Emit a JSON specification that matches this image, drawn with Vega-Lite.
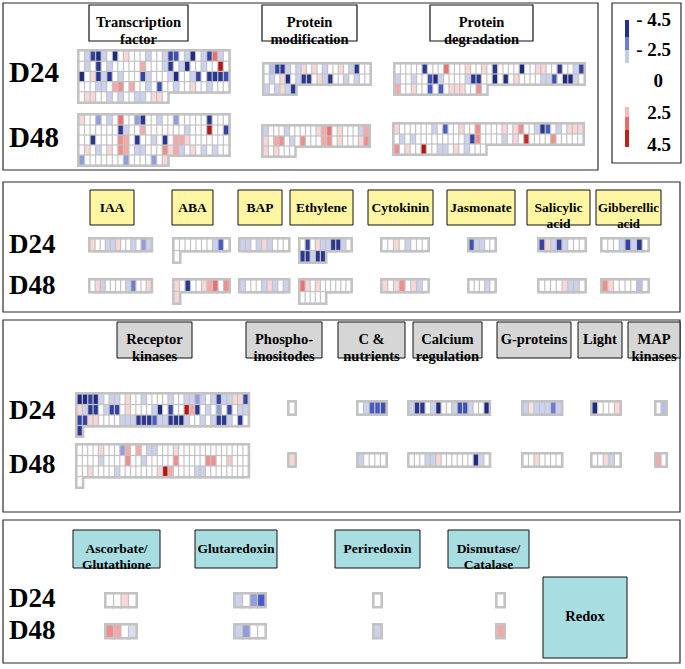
{
"$schema":"https://vega.github.io/schema/vega-lite/v6.json",
"width":685,"height":669,"padding":0,"autosize":{"type":"none"},"background":"white",
"config":{"view":{"stroke":null},"text":{"font":"Liberation Serif","fontWeight":"bold","color":"black"}},
"datasets":{
"frames":[
{"k":"p","x":3,"x2":598,"y":3,"y2":170},
{"k":"p","x":612,"x2":681,"y":3,"y2":163},
{"k":"p","x":3,"x2":680,"y":182,"y2":312},
{"k":"p","x":3,"x2":680,"y":320,"y2":512},
{"k":"p","x":3,"x2":680,"y":520,"y2":663},
{"k":"w","x":89,"x2":188,"y":5,"y2":41},
{"k":"w","x":262,"x2":357,"y":5,"y2":41},
{"k":"w","x":430,"x2":533,"y":5,"y2":41},
{"k":"y","x":90,"x2":134,"y":190,"y2":225},
{"k":"y","x":172,"x2":213,"y":190,"y2":225},
{"k":"y","x":238,"x2":282,"y":190,"y2":225},
{"k":"y","x":290,"x2":353,"y":190,"y2":225},
{"k":"y","x":368,"x2":433,"y":190,"y2":225},
{"k":"y","x":447,"x2":515,"y":190,"y2":225},
{"k":"y","x":527,"x2":590,"y":190,"y2":225},
{"k":"y","x":596,"x2":661,"y":190,"y2":225},
{"k":"g","x":117,"x2":192,"y":322,"y2":358},
{"k":"g","x":246,"x2":322,"y":322,"y2":358},
{"k":"g","x":338,"x2":405,"y":322,"y2":358},
{"k":"g","x":413,"x2":482,"y":322,"y2":358},
{"k":"g","x":497,"x2":571,"y":322,"y2":358},
{"k":"g","x":578,"x2":622,"y":322,"y2":358},
{"k":"g","x":628,"x2":680,"y":322,"y2":358},
{"k":"c","x":73,"x2":160,"y":530,"y2":568},
{"k":"c","x":195,"x2":277,"y":530,"y2":568},
{"k":"c","x":335,"x2":420,"y":530,"y2":568},
{"k":"c","x":448,"x2":529,"y":530,"y2":568},
{"k":"c","x":543,"x2":627,"y":577,"y2":658}
],
"bar":[
{"v":-4.2,"x":625,"x2":629,"y":20,"y2":37},
{"v":-2,"x":625,"x2":629,"y":37,"y2":50},
{"v":-0.8,"x":625,"x2":629,"y":50,"y2":63},
{"v":0,"x":625,"x2":629,"y":63,"y2":107},
{"v":1.2,"x":625,"x2":629,"y":107,"y2":117},
{"v":2.6,"x":625,"x2":629,"y":117,"y2":130},
{"v":4.2,"x":625,"x2":629,"y":130,"y2":147}
],
"texts":[
{"k":"h1","t":"Transcription\nfactor","x":138.5,"y":23},
{"k":"h1","t":"Protein\nmodification","x":309.5,"y":23},
{"k":"h1","t":"Protein\ndegradation","x":481.5,"y":23},
{"k":"h2","t":"IAA","x":112,"y":207.5},
{"k":"h2","t":"ABA","x":192.5,"y":207.5},
{"k":"h2","t":"BAP","x":260,"y":207.5},
{"k":"h2","t":"Ethylene","x":321.5,"y":207.5},
{"k":"h2","t":"Cytokinin","x":400.5,"y":207.5},
{"k":"h2","t":"Jasmonate","x":481,"y":207.5},
{"k":"h2","t":"Salicylic\nacid","x":558.5,"y":207.5},
{"k":"h3","t":"Gibberellic\nacid","x":628.5,"y":207.5},
{"k":"h1","t":"Receptor\nkinases","x":154.5,"y":340},
{"k":"h1","t":"Phospho-\ninositodes","x":284,"y":340},
{"k":"h1","t":"C &\nnutrients","x":371.5,"y":340},
{"k":"h1","t":"Calcium\nregulation","x":447.5,"y":340},
{"k":"h1","t":"G-proteins","x":534,"y":340},
{"k":"h1","t":"Light","x":600,"y":340},
{"k":"h1","t":"MAP\nkinases","x":654,"y":340},
{"k":"h2","t":"Ascorbate/\nGlutathione","x":116.5,"y":549},
{"k":"h2","t":"Glutaredoxin","x":236,"y":549},
{"k":"h2","t":"Periredoxin","x":377.5,"y":549},
{"k":"h2","t":"Dismutase/\nCatalase","x":488.5,"y":549},
{"k":"h1","t":"Redox","x":585,"y":617},
{"k":"D","t":"D24","x":9,"y":82},
{"k":"D","t":"D48","x":9,"y":147},
{"k":"d","t":"D24","x":9,"y":253},
{"k":"d","t":"D48","x":9,"y":294},
{"k":"d","t":"D24","x":9,"y":419},
{"k":"d","t":"D48","x":9,"y":473},
{"k":"d","t":"D24","x":9,"y":607},
{"k":"d","t":"D48","x":9,"y":639},
{"k":"l","t":"- 4.5","x":671,"y":20},
{"k":"l","t":"- 2.5","x":671,"y":50},
{"k":"l","t":"0","x":663,"y":81},
{"k":"l","t":"2.5","x":671,"y":113},
{"k":"l","t":"4.5","x":671,"y":145}
],
"layout":[
{"g":"t1","x0":79,"y0":51,"n":27,"w":5.55,"h":10.2},
{"g":"t2","x0":79,"y0":115,"n":27,"w":5.55,"h":10},
{"g":"m1","x0":264,"y0":64,"n":20,"w":5.3,"h":10},
{"g":"m2","x0":263,"y0":126,"n":20,"w":5.3,"h":10},
{"g":"p1","x0":395,"y0":64,"n":35,"w":5.4,"h":10},
{"g":"p2","x0":394,"y0":124,"n":35,"w":5.4,"h":10},
{"g":"ia1","x0":90,"y0":239,"n":12,"w":5.1,"h":11.5},
{"g":"ia2","x0":90,"y0":280,"n":12,"w":5.1,"h":11.5},
{"g":"ab1","x0":174,"y0":239,"n":10,"w":5.5,"h":11.5},
{"g":"ab2","x0":174,"y0":280,"n":10,"w":5.5,"h":11.5},
{"g":"ba1","x0":240,"y0":239,"n":9,"w":5.4,"h":11.5},
{"g":"ba2","x0":240,"y0":280,"n":9,"w":5.4,"h":11.5},
{"g":"et1","x0":300,"y0":239,"n":10,"w":5.1,"h":11.5},
{"g":"et2","x0":300,"y0":280,"n":10,"w":5.1,"h":11.5},
{"g":"cy1","x0":382,"y0":239,"n":8,"w":5.75,"h":11.5},
{"g":"cy2","x0":382,"y0":280,"n":8,"w":5.75,"h":11.5},
{"g":"ja1","x0":469,"y0":239,"n":5,"w":5.2,"h":11.5},
{"g":"ja2","x0":469,"y0":280,"n":5,"w":5.2,"h":11.5},
{"g":"sa1","x0":539,"y0":239,"n":8,"w":5.75,"h":11.5},
{"g":"sa2","x0":539,"y0":280,"n":8,"w":5.75,"h":11.5},
{"g":"gi1","x0":602,"y0":239,"n":8,"w":5.75,"h":11.5},
{"g":"gi2","x0":602,"y0":280,"n":8,"w":5.75,"h":11.5},
{"g":"rk1","x0":77,"y0":394,"n":32,"w":5.35,"h":10.5},
{"g":"rk2","x0":77,"y0":445,"n":32,"w":5.35,"h":10.5},
{"g":"ph1","x0":289,"y0":402,"n":1,"w":6,"h":12},
{"g":"ph2","x0":289,"y0":454,"n":1,"w":6,"h":12},
{"g":"cn1","x0":358,"y0":402,"n":5,"w":5.6,"h":12},
{"g":"cn2","x0":358,"y0":454,"n":5,"w":5.6,"h":12},
{"g":"ca1","x0":409,"y0":402,"n":15,"w":5.35,"h":12},
{"g":"ca2","x0":409,"y0":454,"n":15,"w":5.35,"h":12},
{"g":"gp1","x0":523,"y0":402,"n":7,"w":5.5,"h":12},
{"g":"gp2","x0":523,"y0":454,"n":7,"w":5.5,"h":12},
{"g":"li1","x0":592,"y0":402,"n":5,"w":5.6,"h":12},
{"g":"li2","x0":592,"y0":454,"n":5,"w":5.6,"h":12},
{"g":"mk1","x0":656,"y0":402,"n":2,"w":5,"h":12},
{"g":"mk2","x0":656,"y0":454,"n":2,"w":5,"h":12},
{"g":"as1","x0":106,"y0":594,"n":4,"w":7.5,"h":12.5},
{"g":"as2","x0":106,"y0":625,"n":4,"w":7.5,"h":12.5},
{"g":"gl1","x0":235,"y0":594,"n":4,"w":7.5,"h":12.5},
{"g":"gl2","x0":235,"y0":625,"n":4,"w":7.5,"h":12.5},
{"g":"pe1","x0":374,"y0":594,"n":1,"w":7,"h":12.5},
{"g":"pe2","x0":374,"y0":625,"n":1,"w":7,"h":12.5},
{"g":"di1","x0":497,"y0":594,"n":1,"w":7,"h":12.5},
{"g":"di2","x0":497,"y0":625,"n":1,"w":7,"h":12.5}
],
"cells":[
{"g":"t1","v":0},{"g":"t1","v":-0.7},{"g":"t1","v":-3.5},{"g":"t1","v":-4.5},{"g":"t1","v":-0.7},{"g":"t1","v":0},{"g":"t1","v":-4.5},{"g":"t1","v":0},{"g":"t1","v":0.7},{"g":"t1","v":0},{"g":"t1","v":0},{"g":"t1","v":0},{"g":"t1","v":-0.7},{"g":"t1","v":0},{"g":"t1","v":0},{"g":"t1","v":-0.7},{"g":"t1","v":-3.5},{"g":"t1","v":-3},{"g":"t1","v":0},{"g":"t1","v":-0.7},{"g":"t1","v":-4.5},{"g":"t1","v":0},{"g":"t1","v":-0.7},{"g":"t1","v":-3.5},{"g":"t1","v":2.5},{"g":"t1","v":-0.7},{"g":"t1","v":0},
{"g":"t1","v":0},{"g":"t1","v":-0.7},{"g":"t1","v":0},{"g":"t1","v":-4},{"g":"t1","v":0},{"g":"t1","v":-0.7},{"g":"t1","v":0},{"g":"t1","v":0},{"g":"t1","v":0},{"g":"t1","v":0},{"g":"t1","v":0},{"g":"t1","v":1.5},{"g":"t1","v":0},{"g":"t1","v":0},{"g":"t1","v":0},{"g":"t1","v":-0.7},{"g":"t1","v":-4},{"g":"t1","v":0},{"g":"t1","v":-0.7},{"g":"t1","v":-4.5},{"g":"t1","v":0},{"g":"t1","v":0},{"g":"t1","v":-0.7},{"g":"t1","v":0},{"g":"t1","v":0},{"g":"t1","v":4.5},{"g":"t1","v":0},
{"g":"t1","v":-4.5},{"g":"t1","v":0},{"g":"t1","v":0.7},{"g":"t1","v":-4},{"g":"t1","v":-0.7},{"g":"t1","v":-4},{"g":"t1","v":0},{"g":"t1","v":-0.7},{"g":"t1","v":0},{"g":"t1","v":0},{"g":"t1","v":0},{"g":"t1","v":-3.5},{"g":"t1","v":-0.7},{"g":"t1","v":0},{"g":"t1","v":0},{"g":"t1","v":0},{"g":"t1","v":-0.7},{"g":"t1","v":-4.5},{"g":"t1","v":0},{"g":"t1","v":0},{"g":"t1","v":-0.7},{"g":"t1","v":-3.5},{"g":"t1","v":0},{"g":"t1","v":-4},{"g":"t1","v":-4},{"g":"t1","v":-4},{"g":"t1","v":-3},
{"g":"t1","v":0},{"g":"t1","v":0},{"g":"t1","v":0},{"g":"t1","v":-0.7},{"g":"t1","v":-0.7},{"g":"t1","v":0},{"g":"t1","v":1.5},{"g":"t1","v":2},{"g":"t1","v":0},{"g":"t1","v":1.5},{"g":"t1","v":0},{"g":"t1","v":0},{"g":"t1","v":-0.7},{"g":"t1","v":0},{"g":"t1","v":-3},{"g":"t1","v":0},{"g":"t1","v":0},{"g":"t1","v":-0.7},{"g":"t1","v":0},{"g":"t1","v":0},{"g":"t1","v":0.7},{"g":"t1","v":0},{"g":"t1","v":0},{"g":"t1","v":-0.7},{"g":"t1","v":0},{"g":"t1","v":0},{"g":"t1","v":0},
{"g":"t1","v":0},{"g":"t1","v":0.7},{"g":"t1","v":0.7},{"g":"t1","v":0},{"g":"t1","v":0},{"g":"t1","v":-0.7},{"g":"t1","v":0},{"g":"t1","v":-0.7},{"g":"t1","v":0},{"g":"t1","v":0},{"g":"t1","v":-0.7},{"g":"t1","v":-0.7},{"g":"t1","v":0},{"g":"t1","v":0.7},{"g":"t1","v":0.7},{"g":"t1","v":0},
{"g":"t2","v":0.7},{"g":"t2","v":0},{"g":"t2","v":0},{"g":"t2","v":-1.5},{"g":"t2","v":0},{"g":"t2","v":-0.7},{"g":"t2","v":0},{"g":"t2","v":2.5},{"g":"t2","v":0},{"g":"t2","v":0},{"g":"t2","v":-1.5},{"g":"t2","v":-4},{"g":"t2","v":0},{"g":"t2","v":0},{"g":"t2","v":-0.7},{"g":"t2","v":0},{"g":"t2","v":0},{"g":"t2","v":-1.5},{"g":"t2","v":0},{"g":"t2","v":0},{"g":"t2","v":0},{"g":"t2","v":0},{"g":"t2","v":0},{"g":"t2","v":-4},{"g":"t2","v":0},{"g":"t2","v":0},{"g":"t2","v":0},
{"g":"t2","v":0},{"g":"t2","v":0},{"g":"t2","v":0},{"g":"t2","v":0},{"g":"t2","v":0},{"g":"t2","v":0},{"g":"t2","v":0},{"g":"t2","v":-4},{"g":"t2","v":-0.7},{"g":"t2","v":0},{"g":"t2","v":0},{"g":"t2","v":1.5},{"g":"t2","v":0},{"g":"t2","v":0},{"g":"t2","v":0},{"g":"t2","v":0},{"g":"t2","v":0},{"g":"t2","v":0},{"g":"t2","v":0},{"g":"t2","v":-0.7},{"g":"t2","v":0},{"g":"t2","v":0},{"g":"t2","v":0},{"g":"t2","v":4.5},{"g":"t2","v":0},{"g":"t2","v":0},{"g":"t2","v":-3.5},
{"g":"t2","v":0},{"g":"t2","v":0},{"g":"t2","v":-4},{"g":"t2","v":0},{"g":"t2","v":0},{"g":"t2","v":0},{"g":"t2","v":0},{"g":"t2","v":2},{"g":"t2","v":1.5},{"g":"t2","v":0},{"g":"t2","v":-4},{"g":"t2","v":0},{"g":"t2","v":0},{"g":"t2","v":-0.7},{"g":"t2","v":0},{"g":"t2","v":-4},{"g":"t2","v":0},{"g":"t2","v":1.5},{"g":"t2","v":1.5},{"g":"t2","v":0.7},{"g":"t2","v":0},{"g":"t2","v":0},{"g":"t2","v":0},{"g":"t2","v":0},{"g":"t2","v":0},{"g":"t2","v":0},{"g":"t2","v":0},
{"g":"t2","v":0},{"g":"t2","v":0.7},{"g":"t2","v":0},{"g":"t2","v":-0.7},{"g":"t2","v":0},{"g":"t2","v":0.7},{"g":"t2","v":0},{"g":"t2","v":2},{"g":"t2","v":1.5},{"g":"t2","v":0},{"g":"t2","v":-0.7},{"g":"t2","v":-0.7},{"g":"t2","v":0},{"g":"t2","v":0},{"g":"t2","v":0},{"g":"t2","v":2},{"g":"t2","v":0.7},{"g":"t2","v":1.5},{"g":"t2","v":-0.7},{"g":"t2","v":0},{"g":"t2","v":0.7},{"g":"t2","v":0},{"g":"t2","v":-0.7},{"g":"t2","v":0},{"g":"t2","v":-0.7},{"g":"t2","v":0},{"g":"t2","v":0},
{"g":"t2","v":-1.5},{"g":"t2","v":0},{"g":"t2","v":0},{"g":"t2","v":0},{"g":"t2","v":0},{"g":"t2","v":0},{"g":"t2","v":0},{"g":"t2","v":0},{"g":"t2","v":-1.5},{"g":"t2","v":0},{"g":"t2","v":0},{"g":"t2","v":0},{"g":"t2","v":0},{"g":"t2","v":-1.5},{"g":"t2","v":0},{"g":"t2","v":0.7},
{"g":"m1","v":0},{"g":"m1","v":-1},{"g":"m1","v":-3.5},{"g":"m1","v":-4},{"g":"m1","v":-0.7},{"g":"m1","v":0},{"g":"m1","v":-0.7},{"g":"m1","v":0.7},{"g":"m1","v":0},{"g":"m1","v":0.7},{"g":"m1","v":0},{"g":"m1","v":-0.7},{"g":"m1","v":0},{"g":"m1","v":0},{"g":"m1","v":0.7},{"g":"m1","v":0},{"g":"m1","v":-0.7},{"g":"m1","v":-4},{"g":"m1","v":0},{"g":"m1","v":0},
{"g":"m1","v":0},{"g":"m1","v":-0.7},{"g":"m1","v":0},{"g":"m1","v":0.7},{"g":"m1","v":-4.5},{"g":"m1","v":0},{"g":"m1","v":-0.7},{"g":"m1","v":-4},{"g":"m1","v":-4},{"g":"m1","v":0},{"g":"m1","v":0.7},{"g":"m1","v":-0.7},{"g":"m1","v":-4},{"g":"m1","v":0},{"g":"m1","v":0},{"g":"m1","v":-0.7},{"g":"m1","v":0},{"g":"m1","v":-0.7},{"g":"m1","v":0},{"g":"m1","v":0},
{"g":"m1","v":-0.7},{"g":"m1","v":0},{"g":"m1","v":-0.7},{"g":"m1","v":0.7},{"g":"m1","v":-0.7},{"g":"m1","v":-4},
{"g":"m2","v":-0.7},{"g":"m2","v":0},{"g":"m2","v":0},{"g":"m2","v":0},{"g":"m2","v":-0.7},{"g":"m2","v":0},{"g":"m2","v":0},{"g":"m2","v":0},{"g":"m2","v":0},{"g":"m2","v":0},{"g":"m2","v":0.7},{"g":"m2","v":1.5},{"g":"m2","v":2.5},{"g":"m2","v":0},{"g":"m2","v":0.7},{"g":"m2","v":0},{"g":"m2","v":0},{"g":"m2","v":0},{"g":"m2","v":-0.7},{"g":"m2","v":1.5},
{"g":"m2","v":0.7},{"g":"m2","v":0},{"g":"m2","v":1.5},{"g":"m2","v":2},{"g":"m2","v":0},{"g":"m2","v":-0.7},{"g":"m2","v":0},{"g":"m2","v":2},{"g":"m2","v":0},{"g":"m2","v":0},{"g":"m2","v":0},{"g":"m2","v":1.5},{"g":"m2","v":2},{"g":"m2","v":0},{"g":"m2","v":0.7},{"g":"m2","v":0},{"g":"m2","v":0},{"g":"m2","v":0},{"g":"m2","v":0.7},{"g":"m2","v":2},
{"g":"m2","v":0.7},{"g":"m2","v":0},{"g":"m2","v":0.7},{"g":"m2","v":0},{"g":"m2","v":0},{"g":"m2","v":0},
{"g":"p1","v":0},{"g":"p1","v":0},{"g":"p1","v":0},{"g":"p1","v":0},{"g":"p1","v":0},{"g":"p1","v":-4},{"g":"p1","v":0},{"g":"p1","v":0},{"g":"p1","v":0},{"g":"p1","v":2.5},{"g":"p1","v":0},{"g":"p1","v":0},{"g":"p1","v":0},{"g":"p1","v":0.7},{"g":"p1","v":0},{"g":"p1","v":0},{"g":"p1","v":0.7},{"g":"p1","v":0},{"g":"p1","v":-4},{"g":"p1","v":0},{"g":"p1","v":0},{"g":"p1","v":0},{"g":"p1","v":0},{"g":"p1","v":-4.5},{"g":"p1","v":0},{"g":"p1","v":0},{"g":"p1","v":0.7},{"g":"p1","v":0.7},{"g":"p1","v":0},{"g":"p1","v":0},{"g":"p1","v":-4},{"g":"p1","v":0},{"g":"p1","v":0},{"g":"p1","v":-0.7},{"g":"p1","v":-3.5},
{"g":"p1","v":-0.7},{"g":"p1","v":0},{"g":"p1","v":0},{"g":"p1","v":-0.7},{"g":"p1","v":0},{"g":"p1","v":0},{"g":"p1","v":-3},{"g":"p1","v":-4.5},{"g":"p1","v":-0.7},{"g":"p1","v":0},{"g":"p1","v":0},{"g":"p1","v":0},{"g":"p1","v":0},{"g":"p1","v":-0.7},{"g":"p1","v":-4},{"g":"p1","v":-4},{"g":"p1","v":0},{"g":"p1","v":0},{"g":"p1","v":-4.5},{"g":"p1","v":0},{"g":"p1","v":-4.5},{"g":"p1","v":0},{"g":"p1","v":0.7},{"g":"p1","v":0},{"g":"p1","v":0},{"g":"p1","v":0},{"g":"p1","v":0},{"g":"p1","v":-0.7},{"g":"p1","v":-0.7},{"g":"p1","v":-3},{"g":"p1","v":0},{"g":"p1","v":-4.5},{"g":"p1","v":-4.5},{"g":"p1","v":-0.7},{"g":"p1","v":0},
{"g":"p1","v":1.5},{"g":"p1","v":0},{"g":"p1","v":0},{"g":"p1","v":0.7},{"g":"p1","v":0},{"g":"p1","v":0},{"g":"p1","v":-2.5},{"g":"p1","v":0},{"g":"p1","v":-2.5},{"g":"p1","v":0},{"g":"p1","v":0.7},{"g":"p1","v":0.7},{"g":"p1","v":0.7},{"g":"p1","v":0},{"g":"p1","v":0},{"g":"p1","v":2},{"g":"p1","v":0},
{"g":"p2","v":0.7},{"g":"p2","v":0},{"g":"p2","v":0},{"g":"p2","v":0},{"g":"p2","v":0},{"g":"p2","v":0},{"g":"p2","v":0},{"g":"p2","v":-0.7},{"g":"p2","v":0},{"g":"p2","v":-2.5},{"g":"p2","v":0},{"g":"p2","v":0},{"g":"p2","v":0.7},{"g":"p2","v":0},{"g":"p2","v":0},{"g":"p2","v":2},{"g":"p2","v":0},{"g":"p2","v":0},{"g":"p2","v":0},{"g":"p2","v":0},{"g":"p2","v":0.7},{"g":"p2","v":0},{"g":"p2","v":0.7},{"g":"p2","v":2},{"g":"p2","v":0},{"g":"p2","v":0},{"g":"p2","v":-0.7},{"g":"p2","v":-4},{"g":"p2","v":-2.5},{"g":"p2","v":0},{"g":"p2","v":-0.7},{"g":"p2","v":0},{"g":"p2","v":0.7},{"g":"p2","v":0.7},{"g":"p2","v":0.7},
{"g":"p2","v":0},{"g":"p2","v":-0.7},{"g":"p2","v":0},{"g":"p2","v":-0.7},{"g":"p2","v":0},{"g":"p2","v":0},{"g":"p2","v":0},{"g":"p2","v":0},{"g":"p2","v":0},{"g":"p2","v":0},{"g":"p2","v":0},{"g":"p2","v":0},{"g":"p2","v":0},{"g":"p2","v":-0.7},{"g":"p2","v":-3.5},{"g":"p2","v":2},{"g":"p2","v":0},{"g":"p2","v":0},{"g":"p2","v":0},{"g":"p2","v":0},{"g":"p2","v":-0.7},{"g":"p2","v":0},{"g":"p2","v":0.7},{"g":"p2","v":0},{"g":"p2","v":4},{"g":"p2","v":0},{"g":"p2","v":0},{"g":"p2","v":0},{"g":"p2","v":0},{"g":"p2","v":2},{"g":"p2","v":0},{"g":"p2","v":0},{"g":"p2","v":0},{"g":"p2","v":0},{"g":"p2","v":0},
{"g":"p2","v":2},{"g":"p2","v":0},{"g":"p2","v":0.7},{"g":"p2","v":0},{"g":"p2","v":0},{"g":"p2","v":4.5},{"g":"p2","v":0},{"g":"p2","v":0},{"g":"p2","v":-0.7},{"g":"p2","v":-0.7},{"g":"p2","v":0},{"g":"p2","v":0.7},{"g":"p2","v":0},{"g":"p2","v":-0.7},{"g":"p2","v":0},{"g":"p2","v":0},{"g":"p2","v":0},
{"g":"ia1","v":0.7},{"g":"ia1","v":0},{"g":"ia1","v":0},{"g":"ia1","v":-0.7},{"g":"ia1","v":-0.7},{"g":"ia1","v":0.7},{"g":"ia1","v":0},{"g":"ia1","v":0},{"g":"ia1","v":-0.7},{"g":"ia1","v":0},{"g":"ia1","v":-1.5},{"g":"ia1","v":-0.7},
{"g":"ia2","v":0},{"g":"ia2","v":0.7},{"g":"ia2","v":-0.7},{"g":"ia2","v":0},{"g":"ia2","v":0},{"g":"ia2","v":0},{"g":"ia2","v":0},{"g":"ia2","v":-0.7},{"g":"ia2","v":-2},{"g":"ia2","v":0},{"g":"ia2","v":0},{"g":"ia2","v":0.7},
{"g":"ab1","v":0},{"g":"ab1","v":0},{"g":"ab1","v":0},{"g":"ab1","v":0},{"g":"ab1","v":0},{"g":"ab1","v":0},{"g":"ab1","v":0},{"g":"ab1","v":-0.7},{"g":"ab1","v":-2.5},{"g":"ab1","v":0},{"g":"ab1","v":0},
{"g":"ab2","v":0.7},{"g":"ab2","v":0},{"g":"ab2","v":-4},{"g":"ab2","v":0},{"g":"ab2","v":0},{"g":"ab2","v":0.7},{"g":"ab2","v":1.5},{"g":"ab2","v":2.5},{"g":"ab2","v":0},{"g":"ab2","v":2},{"g":"ab2","v":0.7},
{"g":"ba1","v":-0.7},{"g":"ba1","v":-0.7},{"g":"ba1","v":0},{"g":"ba1","v":-0.7},{"g":"ba1","v":0.7},{"g":"ba1","v":-0.7},{"g":"ba1","v":0},{"g":"ba1","v":0},{"g":"ba1","v":0},
{"g":"ba2","v":-0.7},{"g":"ba2","v":0},{"g":"ba2","v":0},{"g":"ba2","v":0},{"g":"ba2","v":-0.7},{"g":"ba2","v":0.7},{"g":"ba2","v":-0.7},{"g":"ba2","v":0},{"g":"ba2","v":-0.7},
{"g":"et1","v":0},{"g":"et1","v":-3.5},{"g":"et1","v":0},{"g":"et1","v":0.7},{"g":"et1","v":-0.7},{"g":"et1","v":-0.7},{"g":"et1","v":-4},{"g":"et1","v":-4},{"g":"et1","v":-0.7},{"g":"et1","v":0},{"g":"et1","v":-4},{"g":"et1","v":-4},{"g":"et1","v":-0.7},{"g":"et1","v":-4},{"g":"et1","v":-4},
{"g":"et2","v":2.5},{"g":"et2","v":0.7},{"g":"et2","v":0},{"g":"et2","v":0.7},{"g":"et2","v":0},{"g":"et2","v":0},{"g":"et2","v":0},{"g":"et2","v":0},{"g":"et2","v":0},{"g":"et2","v":0},{"g":"et2","v":0},{"g":"et2","v":0},{"g":"et2","v":0},{"g":"et2","v":0},{"g":"et2","v":0},
{"g":"cy1","v":0},{"g":"cy1","v":0},{"g":"cy1","v":0.7},{"g":"cy1","v":0},{"g":"cy1","v":-0.7},{"g":"cy1","v":0},{"g":"cy1","v":0},{"g":"cy1","v":0},
{"g":"cy2","v":0.7},{"g":"cy2","v":0},{"g":"cy2","v":0.7},{"g":"cy2","v":2},{"g":"cy2","v":0},{"g":"cy2","v":0.7},{"g":"cy2","v":-0.7},{"g":"cy2","v":0},
{"g":"ja1","v":-3},{"g":"ja1","v":-0.7},{"g":"ja1","v":-0.7},{"g":"ja1","v":0},{"g":"ja1","v":0},
{"g":"ja2","v":0},{"g":"ja2","v":0},{"g":"ja2","v":0},{"g":"ja2","v":-0.7},{"g":"ja2","v":0},
{"g":"sa1","v":-3.5},{"g":"sa1","v":0.7},{"g":"sa1","v":-0.7},{"g":"sa1","v":-3.5},{"g":"sa1","v":-0.7},{"g":"sa1","v":0},{"g":"sa1","v":0},{"g":"sa1","v":0},
{"g":"sa2","v":0},{"g":"sa2","v":0},{"g":"sa2","v":0},{"g":"sa2","v":0},{"g":"sa2","v":0.7},{"g":"sa2","v":-0.7},{"g":"sa2","v":-0.7},{"g":"sa2","v":0},
{"g":"gi1","v":0},{"g":"gi1","v":0},{"g":"gi1","v":0},{"g":"gi1","v":-0.7},{"g":"gi1","v":-3.5},{"g":"gi1","v":-0.7},{"g":"gi1","v":-4},{"g":"gi1","v":0},
{"g":"gi2","v":2},{"g":"gi2","v":0.7},{"g":"gi2","v":0},{"g":"gi2","v":0},{"g":"gi2","v":0},{"g":"gi2","v":0},{"g":"gi2","v":-1},{"g":"gi2","v":0},
{"g":"rk1","v":-4.5},{"g":"rk1","v":-4.5},{"g":"rk1","v":-3.5},{"g":"rk1","v":-4.5},{"g":"rk1","v":-0.7},{"g":"rk1","v":0},{"g":"rk1","v":-0.7},{"g":"rk1","v":-0.7},{"g":"rk1","v":0},{"g":"rk1","v":0.7},{"g":"rk1","v":0},{"g":"rk1","v":0},{"g":"rk1","v":-0.7},{"g":"rk1","v":0},{"g":"rk1","v":0},{"g":"rk1","v":0},{"g":"rk1","v":0},{"g":"rk1","v":-0.7},{"g":"rk1","v":0},{"g":"rk1","v":0},{"g":"rk1","v":-0.7},{"g":"rk1","v":-0.7},{"g":"rk1","v":-1.5},{"g":"rk1","v":-0.7},{"g":"rk1","v":0},{"g":"rk1","v":-0.7},{"g":"rk1","v":-3.5},{"g":"rk1","v":-0.7},{"g":"rk1","v":-0.7},{"g":"rk1","v":0.7},{"g":"rk1","v":0.7},{"g":"rk1","v":-3.5},
{"g":"rk1","v":0.7},{"g":"rk1","v":-0.7},{"g":"rk1","v":-4},{"g":"rk1","v":-4},{"g":"rk1","v":0},{"g":"rk1","v":-0.7},{"g":"rk1","v":-3.5},{"g":"rk1","v":-3.5},{"g":"rk1","v":0},{"g":"rk1","v":0.7},{"g":"rk1","v":0},{"g":"rk1","v":0},{"g":"rk1","v":0},{"g":"rk1","v":0},{"g":"rk1","v":-0.7},{"g":"rk1","v":-4.5},{"g":"rk1","v":0},{"g":"rk1","v":-3.5},{"g":"rk1","v":0},{"g":"rk1","v":0},{"g":"rk1","v":4.5},{"g":"rk1","v":1.5},{"g":"rk1","v":-4},{"g":"rk1","v":0},{"g":"rk1","v":-0.7},{"g":"rk1","v":0},{"g":"rk1","v":-1.5},{"g":"rk1","v":0},{"g":"rk1","v":-3.5},{"g":"rk1","v":0},{"g":"rk1","v":-0.7},{"g":"rk1","v":-0.7},
{"g":"rk1","v":-3.5},{"g":"rk1","v":-3.5},{"g":"rk1","v":0.7},{"g":"rk1","v":0.7},{"g":"rk1","v":0},{"g":"rk1","v":0},{"g":"rk1","v":0},{"g":"rk1","v":0},{"g":"rk1","v":-0.7},{"g":"rk1","v":-0.7},{"g":"rk1","v":-0.7},{"g":"rk1","v":-4},{"g":"rk1","v":-4},{"g":"rk1","v":-4},{"g":"rk1","v":-2.5},{"g":"rk1","v":-0.7},{"g":"rk1","v":-0.7},{"g":"rk1","v":-4},{"g":"rk1","v":-4},{"g":"rk1","v":-4.5},{"g":"rk1","v":-0.7},{"g":"rk1","v":0},{"g":"rk1","v":0},{"g":"rk1","v":-0.7},{"g":"rk1","v":0},{"g":"rk1","v":-0.7},{"g":"rk1","v":-4},{"g":"rk1","v":-4},{"g":"rk1","v":-0.7},{"g":"rk1","v":0},{"g":"rk1","v":-4},{"g":"rk1","v":0},
{"g":"rk1","v":-4},
{"g":"rk2","v":0},{"g":"rk2","v":0},{"g":"rk2","v":0},{"g":"rk2","v":0},{"g":"rk2","v":0.7},{"g":"rk2","v":0},{"g":"rk2","v":0},{"g":"rk2","v":0},{"g":"rk2","v":-1.5},{"g":"rk2","v":1.5},{"g":"rk2","v":0},{"g":"rk2","v":1.5},{"g":"rk2","v":0},{"g":"rk2","v":-0.7},{"g":"rk2","v":-0.7},{"g":"rk2","v":0},{"g":"rk2","v":0},{"g":"rk2","v":0},{"g":"rk2","v":0.7},{"g":"rk2","v":0},{"g":"rk2","v":0},{"g":"rk2","v":0},{"g":"rk2","v":0},{"g":"rk2","v":0},{"g":"rk2","v":0},{"g":"rk2","v":0},{"g":"rk2","v":0},{"g":"rk2","v":0},{"g":"rk2","v":0},{"g":"rk2","v":0},{"g":"rk2","v":0},{"g":"rk2","v":0},
{"g":"rk2","v":0},{"g":"rk2","v":0},{"g":"rk2","v":0},{"g":"rk2","v":0},{"g":"rk2","v":-0.7},{"g":"rk2","v":0},{"g":"rk2","v":0},{"g":"rk2","v":0},{"g":"rk2","v":0},{"g":"rk2","v":2},{"g":"rk2","v":0},{"g":"rk2","v":0},{"g":"rk2","v":-0.7},{"g":"rk2","v":0},{"g":"rk2","v":0},{"g":"rk2","v":0},{"g":"rk2","v":0},{"g":"rk2","v":0},{"g":"rk2","v":2},{"g":"rk2","v":0},{"g":"rk2","v":0},{"g":"rk2","v":0},{"g":"rk2","v":0},{"g":"rk2","v":0},{"g":"rk2","v":2},{"g":"rk2","v":2},{"g":"rk2","v":0},{"g":"rk2","v":0},{"g":"rk2","v":1},{"g":"rk2","v":0},{"g":"rk2","v":0},{"g":"rk2","v":0},
{"g":"rk2","v":0},{"g":"rk2","v":0},{"g":"rk2","v":0.7},{"g":"rk2","v":0},{"g":"rk2","v":0},{"g":"rk2","v":0},{"g":"rk2","v":0},{"g":"rk2","v":-0.7},{"g":"rk2","v":0},{"g":"rk2","v":0},{"g":"rk2","v":0},{"g":"rk2","v":0},{"g":"rk2","v":0},{"g":"rk2","v":0},{"g":"rk2","v":0},{"g":"rk2","v":0.7},{"g":"rk2","v":4.5},{"g":"rk2","v":1.5},{"g":"rk2","v":0},{"g":"rk2","v":0},{"g":"rk2","v":0},{"g":"rk2","v":0},{"g":"rk2","v":-0.7},{"g":"rk2","v":-0.7},{"g":"rk2","v":0},{"g":"rk2","v":0},{"g":"rk2","v":0},{"g":"rk2","v":0},{"g":"rk2","v":0},{"g":"rk2","v":0},{"g":"rk2","v":0},{"g":"rk2","v":0},
{"g":"rk2","v":0},
{"g":"ph1","v":0},{"g":"ph2","v":0.7},
{"g":"cn1","v":0},{"g":"cn1","v":-0.7},{"g":"cn1","v":-2.5},{"g":"cn1","v":-2.5},{"g":"cn1","v":-3},
{"g":"cn2","v":-0.7},{"g":"cn2","v":0},{"g":"cn2","v":0},{"g":"cn2","v":0},{"g":"cn2","v":0},
{"g":"ca1","v":-0.7},{"g":"ca1","v":-4},{"g":"ca1","v":-4},{"g":"ca1","v":0},{"g":"ca1","v":-0.7},{"g":"ca1","v":-4.5},{"g":"ca1","v":0},{"g":"ca1","v":0},{"g":"ca1","v":-0.7},{"g":"ca1","v":-3},{"g":"ca1","v":-3},{"g":"ca1","v":-0.7},{"g":"ca1","v":0},{"g":"ca1","v":0},{"g":"ca1","v":-4.5},
{"g":"ca2","v":0},{"g":"ca2","v":0},{"g":"ca2","v":0},{"g":"ca2","v":-0.7},{"g":"ca2","v":-0.7},{"g":"ca2","v":0.7},{"g":"ca2","v":0},{"g":"ca2","v":0},{"g":"ca2","v":0},{"g":"ca2","v":0},{"g":"ca2","v":0},{"g":"ca2","v":0},{"g":"ca2","v":-4.5},{"g":"ca2","v":-0.7},{"g":"ca2","v":0},
{"g":"gp1","v":-0.7},{"g":"gp1","v":0.5},{"g":"gp1","v":-0.7},{"g":"gp1","v":-0.7},{"g":"gp1","v":-0.7},{"g":"gp1","v":-2},{"g":"gp1","v":-0.7},
{"g":"gp2","v":0},{"g":"gp2","v":0},{"g":"gp2","v":0.7},{"g":"gp2","v":0},{"g":"gp2","v":0},{"g":"gp2","v":0},{"g":"gp2","v":0},
{"g":"li1","v":-4.5},{"g":"li1","v":0},{"g":"li1","v":0},{"g":"li1","v":0},{"g":"li1","v":0.7},
{"g":"li2","v":0},{"g":"li2","v":0},{"g":"li2","v":0.7},{"g":"li2","v":-0.7},{"g":"li2","v":0},
{"g":"mk1","v":0},{"g":"mk1","v":-1},
{"g":"mk2","v":1.5},{"g":"mk2","v":0},
{"g":"as1","v":0},{"g":"as1","v":0},{"g":"as1","v":0.7},{"g":"as1","v":0},
{"g":"as2","v":2},{"g":"as2","v":1.5},{"g":"as2","v":0},{"g":"as2","v":-0.5},
{"g":"gl1","v":-0.7},{"g":"gl1","v":0},{"g":"gl1","v":-1.5},{"g":"gl1","v":-2.5},
{"g":"gl2","v":-0.7},{"g":"gl2","v":-1.5},{"g":"gl2","v":0},{"g":"gl2","v":0},
{"g":"pe1","v":0},{"g":"pe2","v":-0.7},
{"g":"di1","v":0},{"g":"di2","v":1.5}
]
},
"layer":[
{"data":{"name":"frames"},"transform":[{"filter":"datum.k=='p'"}],
 "mark":{"type":"rect","fillOpacity":0,"stroke":"#2a2a2a","strokeWidth":1.2},
 "encoding":{"x":{"field":"x","type":"quantitative","scale":{"domain":[0,685],"nice":false,"zero":false},"axis":null},"x2":{"field":"x2"},
 "y":{"field":"y","type":"quantitative","scale":{"domain":[0,669],"nice":false,"zero":false,"reverse":true},"axis":null},"y2":{"field":"y2"}}},
{"data":{"name":"frames"},"transform":[{"filter":"datum.k=='w'"}],
 "mark":{"type":"rect","fill":"white","stroke":"#111","strokeWidth":1.2},
 "encoding":{"x":{"field":"x","type":"quantitative","axis":null},"x2":{"field":"x2"},"y":{"field":"y","type":"quantitative","axis":null},"y2":{"field":"y2"}}},
{"data":{"name":"frames"},"transform":[{"filter":"datum.k=='y'"}],
 "mark":{"type":"rect","fill":"#FFF6A3","stroke":"#111","strokeWidth":1},
 "encoding":{"x":{"field":"x","type":"quantitative","axis":null},"x2":{"field":"x2"},"y":{"field":"y","type":"quantitative","axis":null},"y2":{"field":"y2"}}},
{"data":{"name":"frames"},"transform":[{"filter":"datum.k=='g'"}],
 "mark":{"type":"rect","fill":"#D6D6D6","stroke":"#111","strokeWidth":1},
 "encoding":{"x":{"field":"x","type":"quantitative","axis":null},"x2":{"field":"x2"},"y":{"field":"y","type":"quantitative","axis":null},"y2":{"field":"y2"}}},
{"data":{"name":"frames"},"transform":[{"filter":"datum.k=='c'"}],
 "mark":{"type":"rect","fill":"#A8DDE2","stroke":"#111","strokeWidth":1},
 "encoding":{"x":{"field":"x","type":"quantitative","axis":null},"x2":{"field":"x2"},"y":{"field":"y","type":"quantitative","axis":null},"y2":{"field":"y2"}}},
{"data":{"name":"bar"},
 "mark":{"type":"rect"},
 "encoding":{"x":{"field":"x","type":"quantitative","axis":null},"x2":{"field":"x2"},"y":{"field":"y","type":"quantitative","axis":null},"y2":{"field":"y2"},
  "color":{"field":"v","type":"quantitative","scale":{"domain":[-4.5,-2.5,0,2.5,4.5],"range":["#1f2a80","#4a5cc4","#ffffff","#ec7070","#b5140f"],"interpolate":"rgb","clamp":true},"legend":null}}},
{"data":{"name":"cells"},
 "transform":[
  {"window":[{"op":"row_number","as":"i"}],"groupby":["g"]},
  {"lookup":"g","from":{"data":{"name":"layout"},"key":"g","fields":["x0","y0","n","w","h"]}},
  {"calculate":"(datum.i-1)%datum.n","as":"c"},
  {"calculate":"floor((datum.i-1)/datum.n)","as":"r"},
  {"calculate":"datum.x0+datum.c*datum.w","as":"cx"},
  {"calculate":"datum.y0+datum.r*datum.h","as":"cy"},
  {"calculate":"datum.cx-2","as":"bx"},{"calculate":"datum.cx+datum.w+2","as":"bx2"},
  {"calculate":"datum.cy-2","as":"by"},{"calculate":"datum.cy+datum.h+2","as":"by2"},
  {"calculate":"datum.cx+0.6","as":"fx"},{"calculate":"datum.cx+datum.w-0.6","as":"fx2"},
  {"calculate":"datum.cy+0.6","as":"fy"},{"calculate":"datum.cy+datum.h-0.6","as":"fy2"}
 ],
 "layer":[
  {"mark":{"type":"rect","fill":"#C3C3C3"},
   "encoding":{"x":{"field":"bx","type":"quantitative","axis":null},"x2":{"field":"bx2"},"y":{"field":"by","type":"quantitative","axis":null},"y2":{"field":"by2"}}},
  {"mark":{"type":"rect"},
   "encoding":{"x":{"field":"fx","type":"quantitative","axis":null},"x2":{"field":"fx2"},"y":{"field":"fy","type":"quantitative","axis":null},"y2":{"field":"fy2"},
    "color":{"field":"v","type":"quantitative",
     "scale":{"domain":[-4.5,-2.5,0,2.5,4.5],"range":["#1f2a80","#4a5cc4","#ffffff","#ec7070","#b5140f"],"interpolate":"rgb","clamp":true},
     "legend":null}}}
 ]},
{"data":{"name":"texts"},"transform":[{"filter":"datum.k=='h1'"}],
 "mark":{"type":"text","fontSize":14.5,"lineBreak":"\n","lineHeight":17,"align":"center","baseline":"middle","font":"Liberation Serif","fontWeight":"bold"},
 "encoding":{"x":{"field":"x","type":"quantitative","axis":null},"y":{"field":"y","type":"quantitative","axis":null},"text":{"field":"t"}}},
{"data":{"name":"texts"},"transform":[{"filter":"datum.k=='h2'"}],
 "mark":{"type":"text","fontSize":13.5,"lineBreak":"\n","lineHeight":16,"align":"center","baseline":"middle","font":"Liberation Serif","fontWeight":"bold"},
 "encoding":{"x":{"field":"x","type":"quantitative","axis":null},"y":{"field":"y","type":"quantitative","axis":null},"text":{"field":"t"}}},
{"data":{"name":"texts"},"transform":[{"filter":"datum.k=='h3'"}],
 "mark":{"type":"text","fontSize":12.8,"lineBreak":"\n","lineHeight":16,"align":"center","baseline":"middle","font":"Liberation Serif","fontWeight":"bold"},
 "encoding":{"x":{"field":"x","type":"quantitative","axis":null},"y":{"field":"y","type":"quantitative","axis":null},"text":{"field":"t"}}},
{"data":{"name":"texts"},"transform":[{"filter":"datum.k=='D'"}],
 "mark":{"type":"text","fontSize":29,"align":"left","baseline":"alphabetic","font":"Liberation Serif","fontWeight":"bold"},
 "encoding":{"x":{"field":"x","type":"quantitative","axis":null},"y":{"field":"y","type":"quantitative","axis":null},"text":{"field":"t"}}},
{"data":{"name":"texts"},"transform":[{"filter":"datum.k=='d'"}],
 "mark":{"type":"text","fontSize":27,"align":"left","baseline":"alphabetic","font":"Liberation Serif","fontWeight":"bold"},
 "encoding":{"x":{"field":"x","type":"quantitative","axis":null},"y":{"field":"y","type":"quantitative","axis":null},"text":{"field":"t"}}},
{"data":{"name":"texts"},"transform":[{"filter":"datum.k=='l'"}],
 "mark":{"type":"text","fontSize":19,"align":"right","baseline":"middle","font":"Liberation Serif","fontWeight":"bold"},
 "encoding":{"x":{"field":"x","type":"quantitative","axis":null},"y":{"field":"y","type":"quantitative","axis":null},"text":{"field":"t"}}}
]
}
